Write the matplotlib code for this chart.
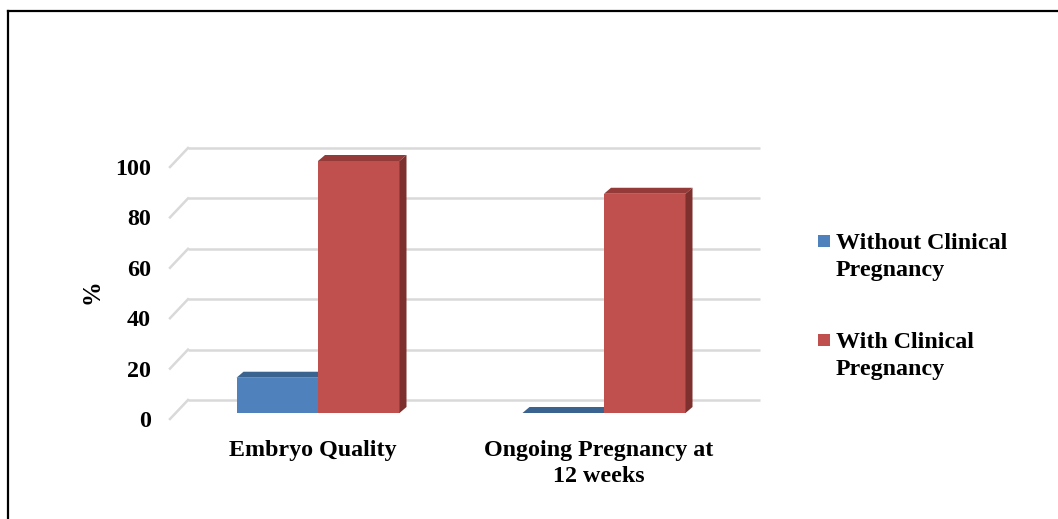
import matplotlib.pyplot as plt
from matplotlib.patches import Polygon, Rectangle
from matplotlib.lines import Line2D

plt.rcParams['font.family'] = ['Liberation Serif', 'DejaVu Serif']
plt.rcParams['font.weight'] = 'bold'

categories = ['Embryo Quality', 'Ongoing Pregnancy at\n12 weeks']
without_cp = [14, 0]
with_cp = [100, 87]
series_names = ['Without Clinical\nPregnancy', 'With Clinical\nPregnancy']
yticks = [0, 20, 40, 60, 80, 100]

# colours: front, top, side
blue = ('#4F81BD', '#3B6390', '#2F5077')
red = ('#C0504D', '#943B39', '#7D302E')
grid_col = '#D9D9D9'
fs = 17.3

W, H = 1058, 519
fig = plt.figure(figsize=(W / 100, H / 100), dpi=100)
ax = fig.add_axes([0, 0, 1, 1])

# x: 286 px per category, category 0 centred at px 318
# y: 2.52 px per unit, value 0 at px 413 from top
px_u, px_v = 286.0, 2.52
ax.set_xlim(-318 / px_u, (W - 318) / px_u)
ax.set_ylim((413 - H) / px_v, 413 / px_v)
ax.axis('off')

# perspective offsets (data units)
back_dx, back_dy = 18 / px_u, 13 / px_v      # back wall relative to bars
front_dy = -6 / px_v                         # front floor edge
depth_dx, depth_dy = 7 / px_u, 6 / px_v      # bar depth
bar_w = 81.5 / px_u
x_left = -148 / px_u
x_right = 442 / px_u

# gridlines on back wall plus floor diagonals
for t in yticks:
    yb = t + back_dy
    ax.plot([x_left + back_dx, x_right], [yb, yb], color=grid_col, lw=1.8,
            solid_capstyle='butt', zorder=1)
    ax.plot([x_left, x_left + back_dx], [t + front_dy, yb], color=grid_col,
            lw=1.8, zorder=1)
    ax.text(x_left - 19 / px_u, t - 14 / px_v, str(t), ha='right',
            va='baseline', fontsize=fs, fontweight='bold')


def bar3d(x0, v, cols, z):
    x1 = x0 + bar_w
    ax.add_patch(Polygon([(x0, 0), (x1, 0), (x1, v), (x0, v)],
                         closed=True, fc=cols[0], ec='none', zorder=z))
    ax.add_patch(Polygon([(x0, v), (x1, v), (x1 + depth_dx, v + depth_dy),
                          (x0 + depth_dx, v + depth_dy)],
                         closed=True, fc=cols[1], ec='none', zorder=z))
    ax.add_patch(Polygon([(x1, 0), (x1, v), (x1 + depth_dx, v + depth_dy),
                          (x1 + depth_dx, depth_dy)],
                         closed=True, fc=cols[2], ec='none', zorder=z))


for i in range(len(categories)):
    bar3d(i - bar_w, without_cp[i], blue, 2)
    bar3d(i, with_cp[i], red, 3)
    ax.text(i - 5 / px_u, -27 / px_v, categories[i],
            ha='center', va='top', fontsize=fs, fontweight='bold',
            linespacing=1.32)

ax.text(-226 / px_u, (413 - 292) / px_v, '%', rotation=90, ha='center',
        va='center', fontsize=fs + 0.5, fontweight='bold')

# legend: square marker beside the first line of each label
for k, (name, cols) in enumerate(zip(series_names, [blue, red])):
    yc = 241 + 99 * k
    fig.add_artist(Rectangle((818 / W, 1 - (yc + 6) / H), 12 / W, 12 / H,
                             transform=fig.transFigure, fc=cols[0],
                             ec='none'))
    fig.text(836 / W, 1 - (yc + 35) / H, name, ha='left', va='baseline',
             fontsize=fs, fontweight='bold', linespacing=1.35,
             multialignment='left')

# outer frame: left and top edges
fig.add_artist(Line2D([8 / W, 8 / W], [0, 1 - 11 / H], color='black',
                      lw=1.6, transform=fig.transFigure))
fig.add_artist(Line2D([8 / W, 1], [1 - 11 / H, 1 - 11 / H], color='black',
                      lw=1.6, transform=fig.transFigure))

fig.savefig('out.png', dpi=100)
